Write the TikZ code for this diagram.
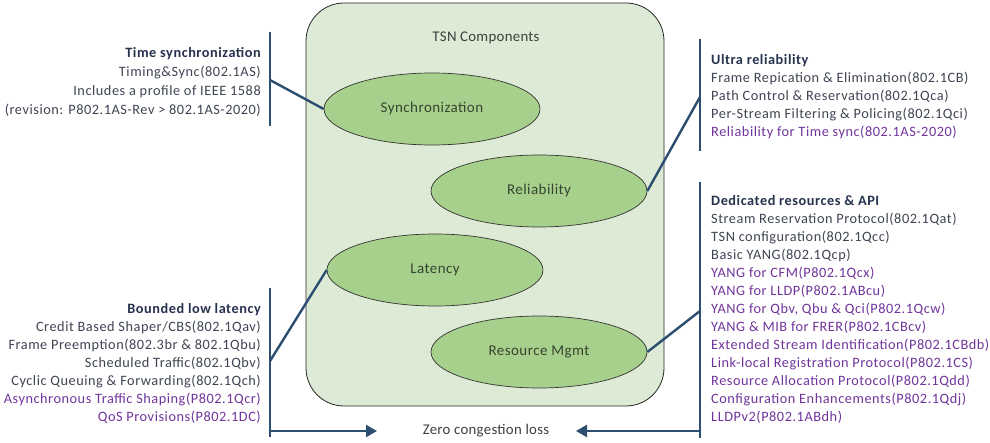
\documentclass[tikz,border=0pt]{standalone}
\usepackage{fontspec}
\setmainfont{Carlito}
\newfontfamily\listfont[LetterSpace=3.8]{Carlito}
\newfontfamily\blobfont[LetterSpace=3]{Carlito}
\newfontfamily\captfont[LetterSpace=2]{Carlito}
\usetikzlibrary{shapes.geometric,arrows.meta}

\definecolor{headcol}{RGB}{38,50,78}
\definecolor{bodycol}{RGB}{62,68,82}
\definecolor{draftcol}{RGB}{112,52,155}
\definecolor{linkcol}{RGB}{44,78,112}
\definecolor{panelfill}{RGB}{221,235,214}
\definecolor{blobfill}{RGB}{168,208,141}
\definecolor{blobtext}{RGB}{55,68,48}
\definecolor{captcol}{RGB}{60,64,60}

\tikzset{
  panel/.style={draw=black!85, line width=0.8pt, fill=panelfill, rounded corners=38pt},
  blob/.style={ellipse, draw=black!80, line width=0.7pt, fill=blobfill,
    minimum width=216pt, minimum height=72pt, inner sep=0pt,
    font=\blobfont\fontsize{15}{17}\selectfont, text=blobtext},
  caption/.style={font=\captfont\fontsize{14.8}{17}\selectfont, text=captcol, inner sep=0pt},
  listR/.style={align=right, anchor=north east, inner sep=0pt,
    font=\listfont\fontsize{14.3}{18}\selectfont, text=bodycol},
  listL/.style={align=left, anchor=north west, inner sep=0pt,
    font=\listfont\fontsize{14.3}{18}\selectfont, text=bodycol},
  bar/.style={draw=linkcol, line width=2.4pt},
  link/.style={draw=linkcol, line width=2.4pt},
  flow/.style={draw=linkcol, line width=2.4pt, -{Triangle[length=11pt,width=12pt]}},
}
\newcommand{\hd}[1]{\textbf{\color{headcol}#1}}
\newcommand{\dr}[1]{{\color{draftcol}#1}}

\begin{document}
\begin{tikzpicture}[x=1pt,y=-1pt]
\useasboundingbox (0,0) rectangle (990,443);

% container of the four component groups
\draw[panel] (306,3) rectangle (664,406);
\node[caption] (title) at (486,38) {TSN Components};

% component ellipses
\node[blob] (sync) at (432,109) {Synchronization};
\node[blob] (rel)  at (539,191) {Reliability};
\node[blob] (lat)  at (435,270) {Latency};
\node[blob] (res)  at (539,352) {Resource Mgmt};

% side brackets
\coordinate (lTa) at (270,32);  \coordinate (lTb) at (270,126);
\coordinate (lBa) at (270,288); \coordinate (lBb) at (270,437);
\coordinate (rTa) at (700,39);  \coordinate (rTb) at (700,151);
\coordinate (rBa) at (700,182); \coordinate (rBb) at (700,438);
\draw[bar] (lTa) -- (lTb);
\draw[bar] (lBa) -- (lBb);
\draw[bar] (rTa) -- (rTb);
\draw[bar] (rBa) -- (rBb);

% links from brackets to ellipses
\coordinate (lTk) at (270,80);
\coordinate (lBk) at (270,361);
\coordinate (rTk) at (700,97);
\coordinate (rBk) at (700,311);
\draw[link] (lTk) -- (sync.west);
\draw[link] (lBk) -- (lat.west);
\draw[link] (rTk) -- (rel.east);
\draw[link] (rBk) -- (res.east);

% bottom arrows
\node[caption] (zero) at (486,431) {Zero congestion loss};
\coordinate (lArr) at (269,431);
\coordinate (rArr) at (701,431);
\draw[flow] (lArr) -- (377,431);
\draw[flow] (rArr) -- (576,431);

% feature lists
\node[listR, font=\listfont\fontsize{14.3}{19}\selectfont] (syncList) at (261,47) {\hd{Time synchronization}\\
  Timing\&Sync(802.1AS)\\
  Includes a profile of IEEE 1588\\
  (revision: P802.1AS-Rev > 802.1AS-2020)};

\node[listR] (latList) at (261,303) {\hd{Bounded low latency}\\
  Credit Based Shaper/CBS(802.1Qav)\\
  Frame Preemption(802.3br \& 802.1Qbu)\\
  Scheduled Traffic(802.1Qbv)\\
  Cyclic Queuing \& Forwarding(802.1Qch)\\
  \dr{Asynchronous Traffic Shaping(P802.1Qcr)}\\
  \dr{QoS Provisions(P802.1DC)}};

\node[listL] (relList) at (711,54) {\hd{Ultra reliability}\\
  Frame Repication \& Elimination(802.1CB)\\
  Path Control \& Reservation(802.1Qca)\\
  Per-Stream Filtering \& Policing(802.1Qci)\\
  \dr{Reliability for Time sync(802.1AS-2020)}};

\node[listL] (resList) at (711,195) {\hd{Dedicated resources \& API}\\
  Stream Reservation Protocol(802.1Qat)\\
  TSN configuration(802.1Qcc)\\
  Basic YANG(802.1Qcp)\\
  \dr{YANG for CFM(P802.1Qcx)}\\
  \dr{YANG for LLDP(P802.1ABcu)}\\
  \dr{YANG for Qbv, Qbu \& Qci(P802.1Qcw)}\\
  \dr{YANG \& MIB for FRER(P802.1CBcv)}\\
  \dr{Extended Stream Identification(P802.1CBdb)}\\
  \dr{Link-local Registration Protocol(P802.1CS)}\\
  \dr{Resource Allocation Protocol(P802.1Qdd)}\\
  \dr{Configuration Enhancements(P802.1Qdj)}\\
  \dr{LLDPv2(P802.1ABdh)}};
\end{tikzpicture}
\end{document}
